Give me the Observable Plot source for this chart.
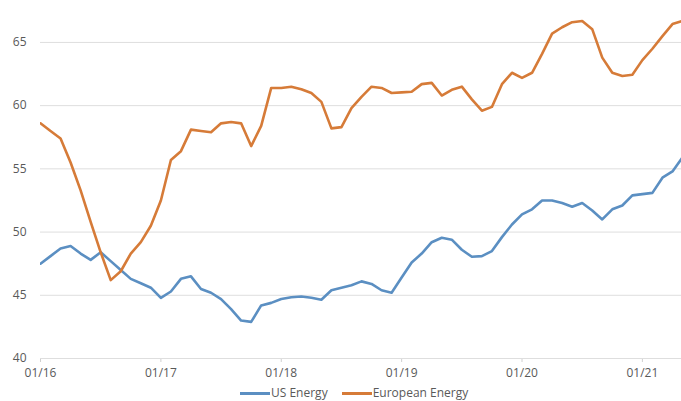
<!DOCTYPE html>
<html>
<head>
<meta charset="utf-8">
<script src="https://cdn.jsdelivr.net/npm/d3@7"></script>
<script src="https://cdn.jsdelivr.net/npm/@observablehq/plot@0.6"></script>
<style>
  html, body { margin: 0; padding: 0; background: #fff; overflow: hidden; width: 681px; height: 401px; }
  #chart { position: absolute; left: 0; top: 0; }
  #chart svg { font-family: "Open Sans", sans-serif; }
  #chart svg g[aria-label="x-axis"] line, #chart svg g[aria-label="x-axis tick"] path { stroke: #d0d0d0; }
  #legend { position: absolute; top: 385px; left: 240px; font: 12px "Open Sans", sans-serif; color: #595959; line-height: 15px; white-space: nowrap; }
  #legend span.sw { display: inline-block; width: 30px; height: 3px; vertical-align: middle; margin-right: 1px; }
  #legend span.item { margin-right: 14px; }
</style>
</head>
<body>
<div id="chart"></div>
<div id="legend"></div>
<script>
// Monthly index 0 = Jan 2016
const seriesNames = ["US Energy", "European Energy"];
const seriesColors = ["#5b8fc2", "#d67b38"];
const usEnergy = [47.5, 48.1, 48.7, 48.9, 48.3, 47.8, 48.4, 47.7, 47.0, 46.3, 45.95, 45.6,
  44.8, 45.3, 46.3, 46.5, 45.5, 45.2, 44.7, 43.9, 43.0, 42.9, 44.2, 44.4,
  44.7, 44.85, 44.9, 44.8, 44.65, 45.4, 45.6, 45.8, 46.1, 45.9, 45.4, 45.2,
  46.4, 47.6, 48.3, 49.2, 49.55, 49.4, 48.6, 48.05, 48.1, 48.5, 49.6, 50.6,
  51.4, 51.8, 52.5, 52.5, 52.3, 52.0, 52.3, 51.7, 51.0, 51.8, 52.1, 52.9,
  53.0, 53.1, 54.3, 54.8, 55.9];
const euEnergy = [58.6, 58.0, 57.4, 55.5, 53.3, 50.8, 48.4, 46.2, 46.9, 48.3, 49.2, 50.5,
  52.5, 55.7, 56.4, 58.1, 58.0, 57.9, 58.6, 58.7, 58.6, 56.8, 58.4, 61.4,
  61.4, 61.5, 61.3, 61.0, 60.3, 58.2, 58.3, 59.8, 60.7, 61.5, 61.4, 61.0,
  61.05, 61.1, 61.7, 61.8, 60.8, 61.25, 61.5, 60.5, 59.6, 59.9, 61.7, 62.6,
  62.2, 62.6, 64.1, 65.7, 66.2, 66.6, 66.7, 66.05, 63.8, 62.6, 62.35, 62.45,
  63.6, 64.5, 65.5, 66.45, 66.7];
const xTickPositions = [0, 12, 24, 36, 48, 60];
const xTickLabels = ["01/16", "01/17", "01/18", "01/19", "01/20", "01/21"];
const yTicks = [40, 45, 50, 55, 60, 65];

const rows = [];
usEnergy.forEach((v, i) => rows.push({i, v, s: seriesNames[0]}));
euEnergy.forEach((v, i) => rows.push({i, v, s: seriesNames[1]}));

const chart = Plot.plot({
  width: 681,
  height: 385,
  marginLeft: 40,
  marginRight: 0,
  marginTop: 4,
  marginBottom: 27,
  style: {fontSize: "12px", fontFamily: "'Open Sans', sans-serif", color: "#595959", background: "transparent"},
  x: {domain: [0, 63.9], ticks: xTickPositions, tickFormat: d => xTickLabels[xTickPositions.indexOf(d)], tickSize: 4, tickPadding: 6, label: null},
  y: {domain: [40, 68], ticks: yTicks, tickSize: 0, tickPadding: 14, label: null},
  color: {domain: seriesNames, range: seriesColors},
  marks: [
    Plot.ruleY(yTicks, {stroke: "#dedede", strokeWidth: 1}),
    Plot.line(rows, {x: "i", y: "v", z: "s", stroke: "s", strokeWidth: 2.6, clip: true})
  ]
});
document.getElementById("chart").appendChild(chart);

const legend = document.getElementById("legend");
seriesNames.forEach((n, k) => {
  const item = document.createElement("span");
  item.className = "item";
  const sw = document.createElement("span");
  sw.className = "sw";
  sw.style.background = seriesColors[k];
  item.appendChild(sw);
  item.appendChild(document.createTextNode(n));
  legend.appendChild(item);
});
</script>
</body>
</html>
